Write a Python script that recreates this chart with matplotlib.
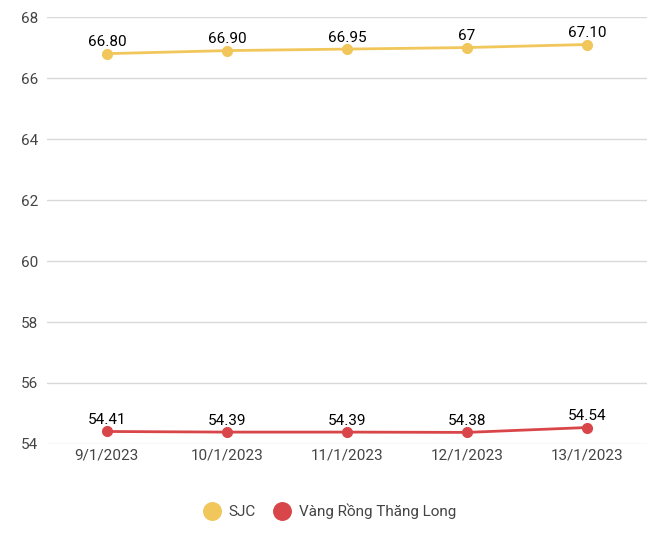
import matplotlib.pyplot as plt
import numpy as np

plt.rcParams['font.family'] = ['Roboto', 'DejaVu Sans']

dates = ['9/1/2023', '10/1/2023', '11/1/2023', '12/1/2023', '13/1/2023']
sjc = [66.80, 66.90, 66.95, 67, 67.10]
sjc_labels = ['66.80', '66.90', '66.95', '67', '67.10']
vrtl = [54.41, 54.39, 54.39, 54.38, 54.54]
vrtl_labels = ['54.41', '54.39', '54.39', '54.38', '54.54']

c_sjc = '#f1c75b'
c_red = '#d9464a'

fig = plt.figure(figsize=(6.6, 5.33), dpi=100)
ax = fig.add_axes([0.071, 0.167, 0.909, 0.801])
x = np.arange(len(dates))

ax.plot(x, sjc, color=c_sjc, lw=2, marker='o', ms=7, label='SJC', zorder=3)
ax.plot(x, vrtl, color=c_red, lw=2, marker='o', ms=7, label='Vàng Rồng Thăng Long', zorder=3)
for xi, v, t in zip(x, sjc, sjc_labels):
    ax.text(xi, v + 0.15, t, ha='center', va='bottom', fontsize=11)
for xi, v, t in zip(x, vrtl, vrtl_labels):
    ax.text(xi, v + 0.15, t, ha='center', va='bottom', fontsize=11)

ax.set_xlim(-0.5, 4.5)
ax.set_ylim(54, 68)
ax.set_yticks(range(54, 69, 2))
ax.set_xticks(x)
ax.set_xticklabels(dates)
ax.tick_params(length=0, labelsize=11, colors='#444444')
ax.tick_params(axis='y', pad=6)
ax.grid(axis='y', color='#d9d9d9', lw=1)
ax.set_axisbelow(True)
for s in ax.spines.values():
    s.set_visible(False)

fig.legend(loc='lower center', bbox_to_anchor=(0.5, 0.0), ncol=2, frameon=False,
           fontsize=11, handlelength=1, handletextpad=0.6, columnspacing=1.2,
           markerscale=1.8, labelcolor='#444444')
for h in fig.legends[0].legend_handles:
    h.set_linestyle('none')

plt.savefig('out.png', dpi=100)
